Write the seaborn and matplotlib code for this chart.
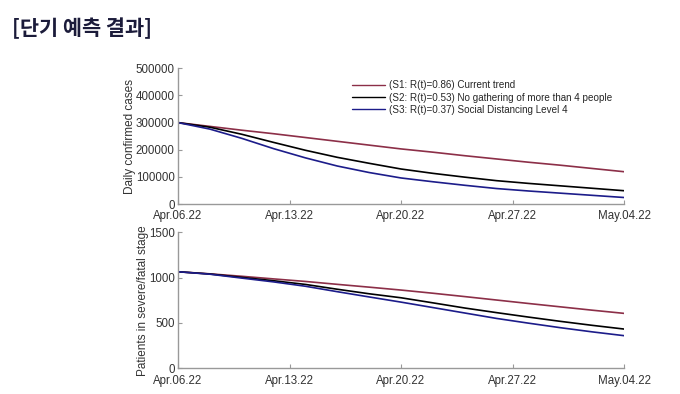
import pandas as pd
import matplotlib
matplotlib.use("Agg")
import matplotlib.pyplot as plt
import matplotlib.dates as mdates
import seaborn as sns

# Dates (every second day)
dates = ["2022-04-06", "2022-04-08", "2022-04-10", "2022-04-12", "2022-04-14",
         "2022-04-16", "2022-04-18", "2022-04-20", "2022-04-22", "2022-04-24",
         "2022-04-26", "2022-04-28", "2022-04-30", "2022-05-02", "2022-05-04"]

# Daily confirmed cases
cases_s1 = [300000, 286000, 272000, 259000, 245000, 231000, 217000, 203000,
            191000, 178000, 166000, 154000, 143000, 131000, 119000]
cases_s2 = [300000, 283000, 257000, 227000, 198000, 172000, 150000, 129000,
            113000, 99000, 86000, 76000, 67000, 58000, 49000]
cases_s3 = [300000, 276000, 242000, 204000, 170000, 140000, 116000, 96000,
            82000, 69000, 57000, 48000, 40000, 32000, 24000]

# Patients in severe/fatal stage
severe_s1 = [1065, 1042, 1015, 986, 958, 926, 895, 863, 828, 791, 753, 715, 678, 641, 606]
severe_s2 = [1065, 1040, 1003, 966, 925, 872, 822, 778, 722, 665, 614, 565, 518, 474, 433]
severe_s3 = [1065, 1038, 995, 953, 905, 845, 787, 730, 670, 610, 550, 498, 448, 402, 360]

labels = ["(S1: R(t)=0.86) Current trend",
          "(S2: R(t)=0.53) No gathering of more than 4 people",
          "(S3: R(t)=0.37) Social Distancing Level 4"]
colors = ["#8c2f48", "#000000", "#1c1c8a"]
tick_dates = ["2022-04-06", "2022-04-13", "2022-04-20", "2022-04-27", "2022-05-04"]


def long_form(s1, s2, s3):
    frames = []
    for lab, vals in zip(labels, [s1, s2, s3]):
        frames.append(pd.DataFrame({"date": pd.to_datetime(dates), "value": vals, "scenario": lab}))
    return pd.concat(frames, ignore_index=True)


df_cases = long_form(cases_s1, cases_s2, cases_s3)
df_severe = long_form(severe_s1, severe_s2, severe_s3)

sns.set_style("white")
plt.rcParams["font.family"] = ["Liberation Sans", "DejaVu Sans"]

fig = plt.figure(figsize=(6.8, 3.94), dpi=100)
ax1 = fig.add_axes([0.2618, 0.4822, 0.6559, 0.3444])
ax2 = fig.add_axes([0.2618, 0.0652, 0.6559, 0.3452])

palette = dict(zip(labels, colors))
grey = "#999999"

for ax, df, ylab, ymax, ystep, ylab_x in [
    (ax1, df_cases, "Daily confirmed cases", 500000, 100000, -0.094),
    (ax2, df_severe, "Patients in severe/fatal stage", 1500, 500, -0.066),
]:
    sns.lineplot(data=df, x="date", y="value", hue="scenario", palette=palette,
                 linewidth=1.2, ax=ax, legend=(ax is ax1))
    ax.set_xlim(pd.Timestamp(dates[0]), pd.Timestamp(dates[-1]))
    ax.set_ylim(0, ymax)
    ax.set_yticks(range(0, ymax + 1, ystep))
    ax.set_xticks(pd.to_datetime(tick_dates))
    ax.xaxis.set_major_formatter(mdates.DateFormatter("%b.%d.%y"))
    ax.set_xlabel("")
    ax.set_ylabel(ylab, fontsize=8.5, color="#333333")
    ax.yaxis.set_label_coords(ylab_x, 0.5)
    for side in ["top", "right"]:
        ax.spines[side].set_visible(False)
    for side in ["left", "bottom"]:
        ax.spines[side].set_color(grey)
        ax.spines[side].set_linewidth(1.0)
    ax.tick_params(direction="in", length=3, width=0.8, color=grey,
                   labelsize=8.3, labelcolor="#333333",
                   bottom=True, left=True)
    ax.tick_params(axis="x", pad=4.5)
    ax.tick_params(axis="y", pad=2.5)

leg = ax1.legend(loc="upper left", bbox_to_anchor=(0.376, 0.955), frameon=False,
                 fontsize=7.1, handlelength=3.4, handletextpad=0.35,
                 labelspacing=0.22, borderaxespad=0.2)
for line in leg.get_lines():
    line.set_linewidth(1.0)

fig.text(0.018, 0.928, "[단기 예측 결과]", fontsize=15, fontweight="bold",
         color="#1b1b3a", family=["Noto Sans CJK KR", "DejaVu Sans"], va="center")

fig.savefig("out.png", dpi=100)
